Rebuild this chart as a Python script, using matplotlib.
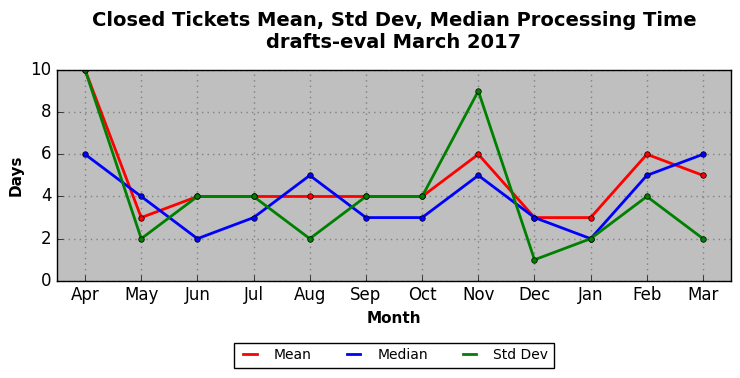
import matplotlib
matplotlib.use("Agg")
import matplotlib.pyplot as plt
from matplotlib.lines import Line2D

plt.style.use("classic")

months = ["Apr", "May", "Jun", "Jul", "Aug", "Sep", "Oct", "Nov", "Dec", "Jan", "Feb", "Mar"]
mean = [10, 3, 4, 4, 4, 4, 4, 6, 3, 3, 6, 5]
median = [6, 4, 2, 3, 5, 3, 3, 5, 3, 2, 5, 6]
std_dev = [10, 2, 4, 4, 2, 4, 4, 9, 1, 2, 4, 2]

series = [("Mean", mean, "red"), ("Median", median, "blue"), ("Std Dev", std_dev, "green")]

fig = plt.figure(figsize=(7.4, 3.78), dpi=100, facecolor="white")
ax = fig.add_axes([0.077, 0.257, 0.911, 0.558])
ax.set_facecolor("#bfbfbf")
ax.set_axisbelow(True)
x = list(range(len(months)))
handles = []
for name, vals, col in series:
    ax.plot(x, vals, color=col, lw=2, marker="o", ms=4, mec="black", mew=0.5)
    handles.append(Line2D([], [], color=col, lw=2, label=name))
ax.set_xlim(-0.5, len(months) - 0.5)
ax.set_ylim(0, 10)
ax.set_xticks(x)
ax.set_xticklabels(months)
ax.set_yticks([0, 2, 4, 6, 8, 10])
ax.tick_params(labelsize=12, top=False, right=False)
ax.grid(True, color="gray", linestyle=":", linewidth=1)
ax.set_xlabel("Month", fontsize=11, fontweight="bold")
ax.set_ylabel("Days", fontsize=11, fontweight="bold")
ax.set_title("Closed Tickets Mean, Std Dev, Median Processing Time\ndrafts-eval March 2017",
             fontsize=14, fontweight="bold", pad=16)
fig.legend(handles=handles, loc="center", bbox_to_anchor=(0.532, 0.06), ncol=3, fontsize=10,
           frameon=True, fancybox=False, handlelength=1.6, columnspacing=2.2, handletextpad=0.9)
fig.savefig("out.png", dpi=100, facecolor="white")
